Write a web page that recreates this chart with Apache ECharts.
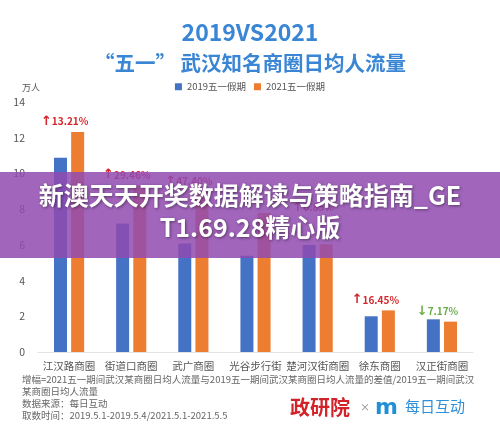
<!DOCTYPE html>
<html><head><meta charset="utf-8">
<script src="https://cdn.jsdelivr.net/npm/echarts@6/dist/echarts.min.js"></script>
<style>html,body{margin:0;padding:0;background:#fff}#c{width:500px;height:433px}</style>
</head><body><div id="c"></div>
<script>
const categories = ['江汉路商圈','街道口商圈','武广商圈','光谷步行街','楚河汉街商圈','徐东商圈','汉正街商圈'];
const series2019 = [10.88, 7.20, 6.08, 5.39, 5.99, 2.00, 1.83];
const series2021 = [12.32, 9.32, 8.96, 7.78, 6.04, 2.33, 1.70];
const changeText = ['13.21%','29.46%','47.40%','','0.85%','16.45%','7.17%'];
const changeUp = [true, true, true, true, true, true, false];
const yTicks = [0, 2, 4, 6, 8, 10, 12, 14];
const legendNames = ['2019五一假期','2021五一假期'];

const chart = echarts.init(document.getElementById('c'));
const FONT = '"Noto Sans CJK SC","Noto Sans",sans-serif';

const orangeData = series2021.map((v, i) => ({
  value: v,
  label: {
    show: changeText[i] !== '',
    position: 'top',
    distance: i === 4 ? 30 : 4,
    offset: [-13, 0],
    formatter: () => (changeUp[i] ? '{up|↑}' : '{dn|↓}') + '{' + (changeUp[i] ? 'u' : 'd') + '|' + changeText[i] + '}',
    rich: {
      up: {color: '#d7262b', fontSize: 13, fontWeight: 'bold', fontFamily: 'DejaVu Sans'},
      dn: {color: '#6aae4a', fontSize: 13, fontWeight: 'bold', fontFamily: 'DejaVu Sans'},
      u: {color: '#d7262b', fontSize: 10, fontWeight: 'bold', fontFamily: FONT},
      d: {color: '#6aae4a', fontSize: 10, fontWeight: 'bold', fontFamily: FONT}
    }
  }
}));

const foot = [
  '增幅=2021五一期间武汉某商圈日均人流量与2019五一期间武汉某商圈日均人流量的差值/2019五一期间武汉',
  '某商圈日均人流量',
  '数据来源：每日互动',
  '取数时间：2019.5.1-2019.5.4/2021.5.1-2021.5.5'
];

chart.setOption({
  backgroundColor: '#fff',
  animation: false,
  title: [
    {text: '2019VS2021', left: 'center', top: 16, textStyle: {color: '#3a86d4', fontSize: 23, fontWeight: 'bold', fontFamily: FONT}},
    {text: '“五一” 武汉知名商圈日均人流量', left: 'center', top: 48, textStyle: {color: '#3a86d4', fontSize: 20.5, fontWeight: 'bold', fontFamily: FONT}}
  ],
  legend: {
    top: 77, left: 'center', itemWidth: 7, itemHeight: 7, itemGap: 8,
    icon: 'rect',
    textStyle: {color: '#555', fontSize: 9.5, fontFamily: FONT},
    data: legendNames
  },
  grid: {left: 38, right: 27, top: 102, bottom: 81},
  xAxis: {
    type: 'category', data: categories,
    axisLine: {lineStyle: {color: '#e3e3e3'}},
    axisTick: {show: false},
    axisLabel: {color: '#555', fontSize: 10.5, margin: 9, fontFamily: FONT, interval: 0}
  },
  yAxis: {
    type: 'value', min: yTicks[0], max: yTicks[yTicks.length - 1], interval: 2,
    name: '万人', nameLocation: 'end', nameGap: 10,
    nameTextStyle: {color: '#555', fontSize: 9, fontFamily: FONT, align: 'right', padding: [0, -2, 0, 0]},
    axisLine: {show: false}, axisTick: {show: false},
    splitLine: {show: false},
    axisLabel: {color: '#555', fontSize: 10.5, margin: 13, fontFamily: FONT}
  },
  series: [
    {name: legendNames[0], type: 'bar', data: series2019, barWidth: 13, barGap: '32%', itemStyle: {color: '#4472c4'}},
    {name: legendNames[1], type: 'bar', data: orangeData, barWidth: 13, itemStyle: {color: '#ed7d31'}}
  ],
  graphic: [
    {type: 'group', left: 22, top: 375, children: foot.map((t, i) => ({
      type: 'text', x: 0, y: [0, 11.5, 23.5, 35.5][i],
      style: {text: t, fill: '#666', fontSize: 9.5, fontFamily: FONT}
    }))},
    {type: 'text', left: 290, top: 397, style: {text: '政研院', fill: '#d2232a', fontSize: 20, fontWeight: 'bold', fontFamily: FONT}},
    {type: 'text', left: 360, top: 402, style: {text: '×', fill: '#888', fontSize: 10, fontFamily: FONT}},
    {type: 'text', left: 375, top: 397, style: {text: 'm', fill: '#1f8fd6', fontSize: 22, fontWeight: 'bold', fontFamily: 'DejaVu Sans'}},
    {type: 'text', left: 405, top: 399, style: {text: '每日互动', fill: '#2f8fd8', fontSize: 15, fontFamily: FONT}},
    {type: 'rect', left: 0, top: 172, shape: {width: 500, height: 86}, style: {fill: 'rgba(145,74,176,0.85)'}, z: 100},
    {type: 'text', left: 'center', top: 183, z: 101,
      style: {text: '新澳天天开奖数据解读与策略指南_GE', fill: '#fff', fontSize: 25, fontWeight: 'bold', fontFamily: FONT,
        textShadowColor: 'rgba(0,0,0,0.45)', textShadowBlur: 3, textShadowOffsetX: 1, textShadowOffsetY: 1}},
    {type: 'text', left: 'center', top: 215, z: 101,
      style: {text: 'T1.69.28精心版', fill: '#fff', fontSize: 25, fontWeight: 'bold', fontFamily: FONT,
        textShadowColor: 'rgba(0,0,0,0.45)', textShadowBlur: 3, textShadowOffsetX: 1, textShadowOffsetY: 1}}
  ]
});
</script></body></html>
